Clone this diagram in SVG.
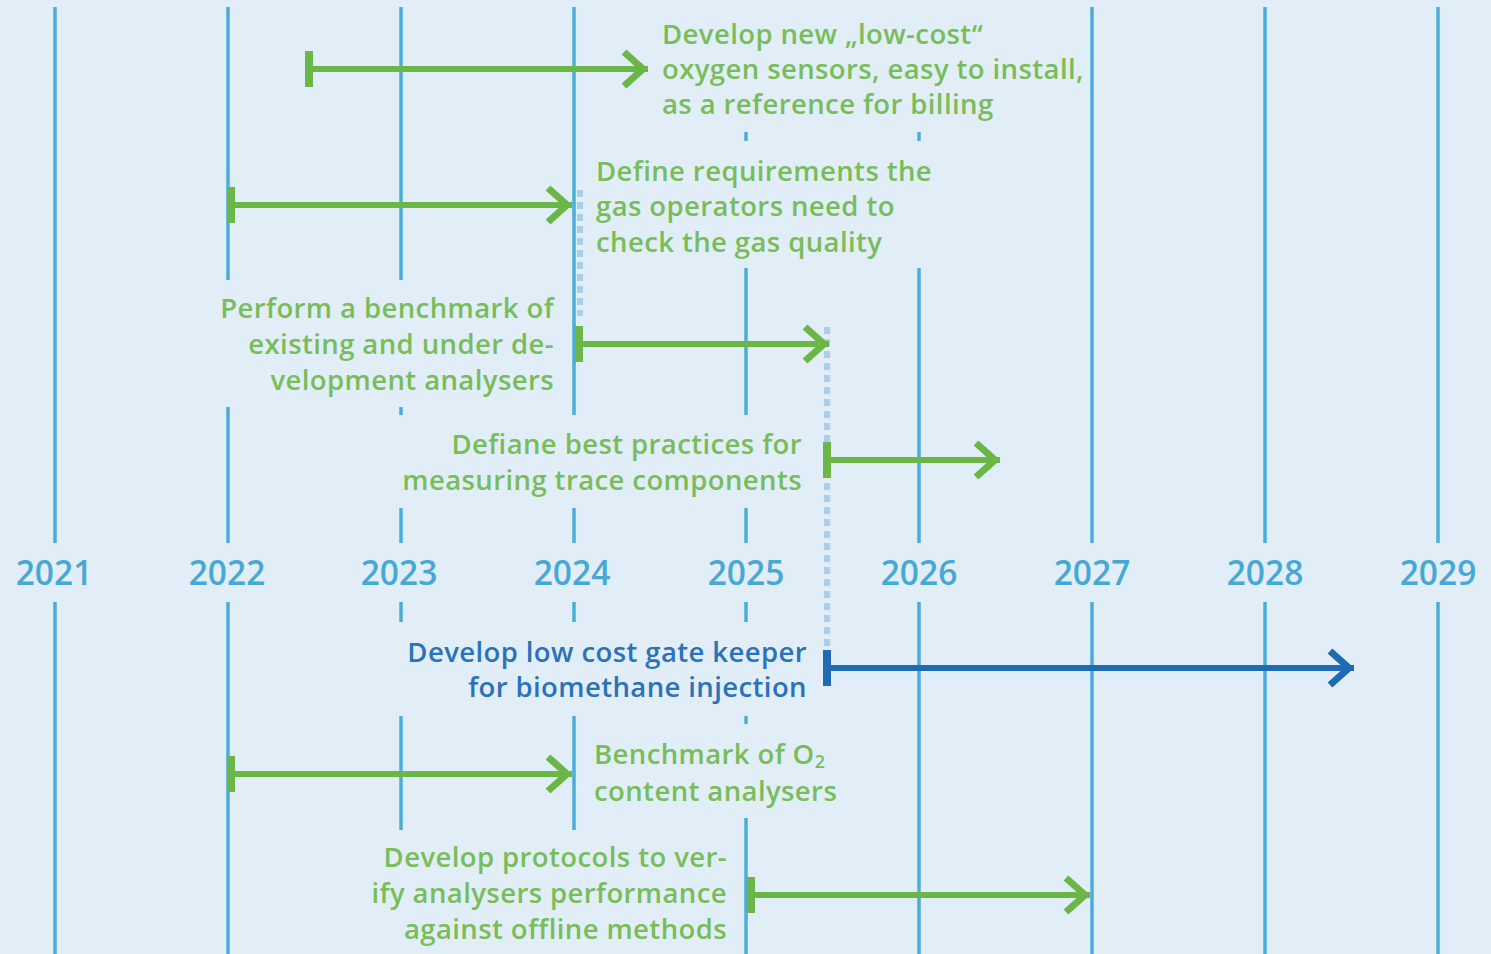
<svg xmlns="http://www.w3.org/2000/svg" width="1491" height="954" viewBox="0 0 1491 954">
  <style>
    .grid { stroke: #4aaed8; stroke-width: 3.5; fill: none; }
    .dots { stroke: #a8d0ee; stroke-width: 6; stroke-dasharray: 7 5; fill: none; }
    .arrow-g { stroke: #6ab646; stroke-width: 6; fill: none; }
    .arrow-b { stroke: #1f6bb4; stroke-width: 6; fill: none; }
    .lbl { font-family: "Open Sans", "Noto Sans", "Liberation Sans", sans-serif; font-weight: 600; font-size: 27.5px; letter-spacing: 0.4px; }
    .green { fill: #79bd5a; }
    .blue { fill: #2b72b8; }
    .year { font-family: "Open Sans", "Noto Sans", "Liberation Sans", sans-serif; font-weight: 600; font-size: 33.5px; fill: #46a9d5; text-anchor: middle; }
    .end { text-anchor: end; }
  </style>
  <defs>
    <marker id="head-g" markerUnits="userSpaceOnUse" viewBox="-30 -22 36 44" refX="0" refY="0" markerWidth="36" markerHeight="44" orient="auto" overflow="visible">
      <path d="M-24,-17 L-5,0 L-24,17" fill="none" stroke="#6ab646" stroke-width="7"/>
    </marker>
    <marker id="head-b" markerUnits="userSpaceOnUse" viewBox="-30 -22 36 44" refX="0" refY="0" markerWidth="36" markerHeight="44" orient="auto" overflow="visible">
      <path d="M-24,-17 L-5,0 L-24,17" fill="none" stroke="#1f6bb4" stroke-width="7"/>
    </marker>
    <marker id="bar-g" markerUnits="userSpaceOnUse" viewBox="-5 -19 10 38" refX="0" refY="0" markerWidth="10" markerHeight="38" orient="auto" overflow="visible">
      <rect x="-4" y="-18" width="8" height="36" fill="#6ab646"/>
    </marker>
    <marker id="bar-b" markerUnits="userSpaceOnUse" viewBox="-5 -19 10 38" refX="0" refY="0" markerWidth="10" markerHeight="38" orient="auto" overflow="visible">
      <rect x="-4" y="-18" width="8" height="36" fill="#1f6bb4"/>
    </marker>
  </defs>

  <rect width="1491" height="954" fill="#e1eef8"/>

  <!-- year grid lines, broken where labels sit -->
  <g id="grid" class="grid">
    <path d="M55,7 V543 M55,602 V954"/>
    <path d="M228,7 V280 M228,407 V543 M228,602 V954"/>
    <path d="M401,7 V280 M401,407 V415 M401,508 V543 M401,602 V622 M401,716 V830"/>
    <path d="M574,7 V415 M574,508 V543 M574,602 V622 M574,716 V830"/>
    <path d="M746,132 V141 M746,268 V415 M746,508 V543 M746,602 V622 M746,716 V724 M746,818 V954"/>
    <path d="M919,132 V141 M919,268 V543 M919,602 V954"/>
    <path d="M1092,7 V543 M1092,602 V954"/>
    <path d="M1265,7 V543 M1265,602 V954"/>
    <path d="M1438,7 V543 M1438,602 V954"/>
  </g>

  <!-- year labels -->
  <g id="years">
    <g id="y2021"><text class="year" x="54" y="585">2021</text></g>
    <g id="y2022"><text class="year" x="227" y="585">2022</text></g>
    <g id="y2023"><text class="year" x="399" y="585">2023</text></g>
    <g id="y2024"><text class="year" x="572" y="585">2024</text></g>
    <g id="y2025"><text class="year" x="746" y="585">2025</text></g>
    <g id="y2026"><text class="year" x="919" y="585">2026</text></g>
    <g id="y2027"><text class="year" x="1092" y="585">2027</text></g>
    <g id="y2028"><text class="year" x="1265" y="585">2028</text></g>
    <g id="y2029"><text class="year" x="1438" y="585">2029</text></g>
  </g>

  <!-- connectors: dependency dots and task spans -->
  <g id="connectors">
    <path class="dots" d="M580,190 V316"/>
    <path class="dots" d="M827,327 V650"/>
    <path class="arrow-g" d="M309,69 H648" marker-start="url(#bar-g)" marker-end="url(#head-g)"/>
    <path class="arrow-g" d="M231,205 H572" marker-start="url(#bar-g)" marker-end="url(#head-g)"/>
    <path class="arrow-g" d="M579,344 H829" marker-start="url(#bar-g)" marker-end="url(#head-g)"/>
    <path class="arrow-g" d="M827,460 H1000" marker-start="url(#bar-g)" marker-end="url(#head-g)"/>
    <path class="arrow-b" d="M827,668 H1354" marker-start="url(#bar-b)" marker-end="url(#head-b)"/>
    <path class="arrow-g" d="M231,774 H572" marker-start="url(#bar-g)" marker-end="url(#head-g)"/>
    <path class="arrow-g" d="M751,895 H1090" marker-start="url(#bar-g)" marker-end="url(#head-g)"/>
  </g>

  <g id="task-oxygen-sensors">
    <text class="lbl green" x="662" y="44">Develop new „low-cost“</text>
    <text class="lbl green" x="662" y="79">oxygen sensors, easy to install,</text>
    <text class="lbl green" x="662" y="114">as a reference for billing</text>
  </g>
  <g id="task-requirements">
    <text class="lbl green" x="596" y="181">Define requirements the</text>
    <text class="lbl green" x="596" y="216">gas operators need to</text>
    <text class="lbl green" x="596" y="252">check the gas quality</text>
  </g>
  <g id="task-benchmark">
    <text class="lbl green end" x="554" y="318">Perform a benchmark of</text>
    <text class="lbl green end" x="554" y="354">existing and under de-</text>
    <text class="lbl green end" x="554" y="390">velopment analysers</text>
  </g>
  <g id="task-best-practices">
    <text class="lbl green end" x="802" y="454">Defiane best practices for</text>
    <text class="lbl green end" x="802" y="490">measuring trace components</text>
  </g>
  <g id="task-gate-keeper">
    <text class="lbl blue end" x="807" y="662">Develop low cost gate keeper</text>
    <text class="lbl blue end" x="807" y="697">for biomethane injection</text>
  </g>
  <g id="task-o2-benchmark">
    <text class="lbl green" x="594" y="764">Benchmark of O<tspan font-size="18" dy="4">2</tspan></text>
    <text class="lbl green" x="594" y="801">content analysers</text>
  </g>
  <g id="task-protocols">
    <text class="lbl green end" x="727" y="867">Develop protocols to ver-</text>
    <text class="lbl green end" x="727" y="903">ify analysers performance</text>
    <text class="lbl green end" x="727" y="939">against offline methods</text>
  </g>
</svg>
